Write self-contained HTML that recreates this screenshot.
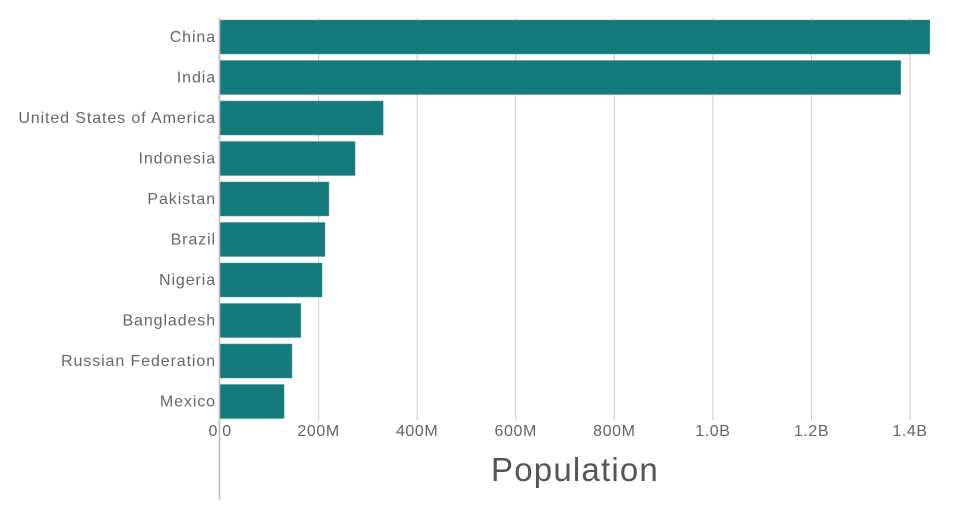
<!DOCTYPE html>
<html><head><meta charset="utf-8"><style>
body{margin:0;background:#fff;}
svg text{font-family:"Liberation Sans",sans-serif;fill:#666;}
</style></head><body>
<svg id="chart" width="960" height="500">
<g id="grid"></g>
<g id="bars"></g>
<g id="ylabels"></g>
<g id="xlabels"></g>
<line x1="219.5" y1="18" x2="219.5" y2="500" stroke="#bbb" stroke-width="1.5"/>
<text x="213" y="436" text-anchor="middle" font-size="16">0</text>
<text x="575" y="481" text-anchor="middle" font-size="33" letter-spacing="1.2" style="fill:#555">Population</text>
</svg>
<script>
const categories=["China","India","United States of America","Indonesia","Pakistan","Brazil","Nigeria","Bangladesh","Russian Federation","Mexico"];
const values=[1440,1381,331,274,221,213,207,164,146,130];
const tickValues=[0,200,400,600,800,1000,1200,1400];
const tickLabels=["0","200M","400M","600M","800M","1.0B","1.2B","1.4B"];
const NS="http://www.w3.org/2000/svg";
const x0=220,pxPerM=0.4929,plotTop=20,band=40.5,barH=34;
const xs=v=>x0+v*pxPerM;
const ys=i=>plotTop+i*band;
function mk(t,a,p){const e=document.createElementNS(NS,t);for(const k in a)e.setAttribute(k,a[k]);p.appendChild(e);return e;}
const grid=document.getElementById('grid'),bars=document.getElementById('bars'),yl=document.getElementById('ylabels'),xl=document.getElementById('xlabels');
tickValues.forEach((v,i)=>{
 if(i>0){const l=mk('line',{x1:xs(v),x2:xs(v),y1:18,y2:420,stroke:'#ccc','stroke-width':1},grid);
 
 }
 const t=mk('text',{x:xs(v)+(i==0?7:0),y:436,'text-anchor':'middle','font-size':16,'letter-spacing':0.6},xl);
 t.textContent=tickLabels[i];
 
 
});
categories.forEach((c,i)=>{
 const r=mk('rect',{x:x0,y:ys(i),width:xs(values[i])-x0,height:barH,fill:'#157a7c',stroke:'#4a9a9c','stroke-width':0.5},bars);
 
 
 const t=mk('text',{x:216,y:ys(i)+barH/2+5,'text-anchor':'end','font-size':16,'letter-spacing':0.9},yl);
 t.textContent=c;
 
 
});
</script>
</body></html>
